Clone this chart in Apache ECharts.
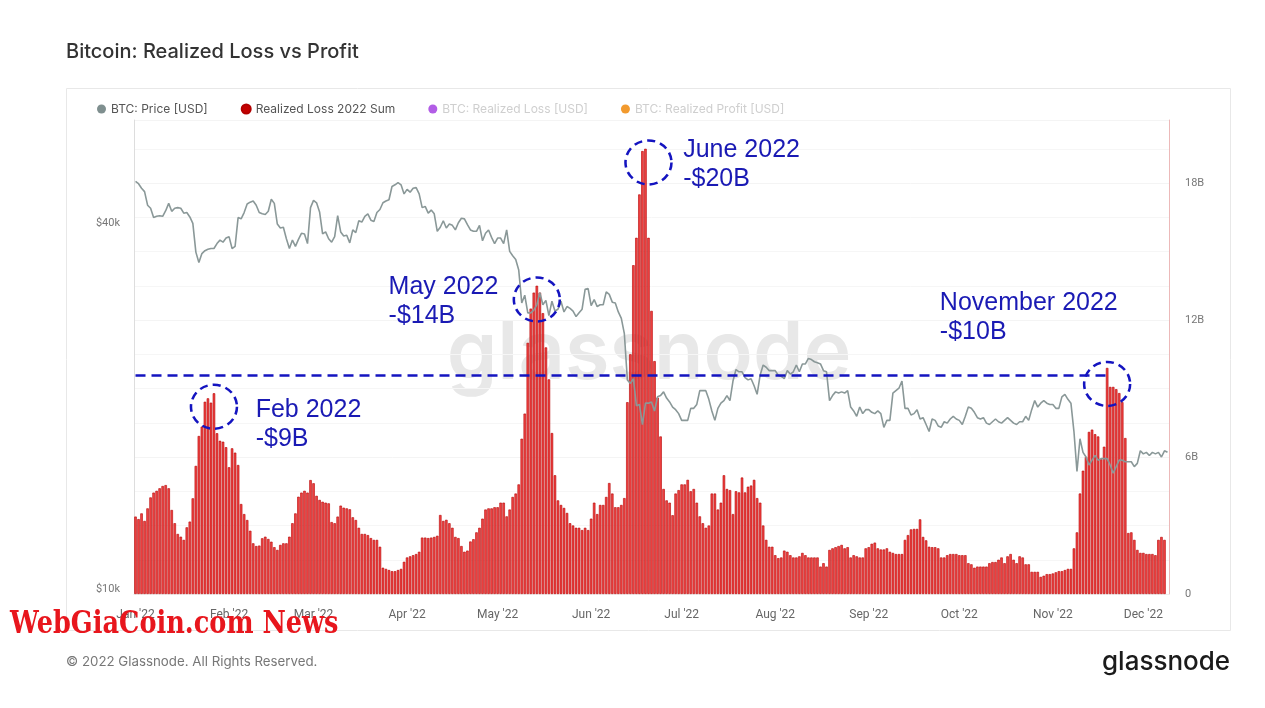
<!DOCTYPE html>
<html><head><meta charset="utf-8">
<script src="https://cdn.jsdelivr.net/npm/echarts@6/dist/echarts.min.js"></script>
<style>html,body{margin:0;padding:0;background:#fff;}#c{width:1265px;height:708px;}</style>
</head><body><div id="c"></div>
<script>
// ---------- DATA ----------
const firstDate = '2022-01-01';
const dayCount = 343; // Jan 1 .. Dec 9, 2022
const monthNames = ['Jan','Feb','Mar','Apr','May','Jun','Jul','Aug','Sep','Oct','Nov','Dec'];

// BTC price (USD thousands), daily
const priceK = [
 47.7,47.3,46.5,45.9,43.6,43.1,41.6,41.8,41.9,41.8,42.7,43.9,42.6,43.1,43.2,43.1,42.3,42.4,41.7,40.7,36.5,35.1,36.3,36.7,36.9,37.0,37.0,37.7,38.2,37.9,38.5,
 38.7,37.0,37.3,41.6,41.4,42.4,43.8,44.1,44.3,43.6,42.4,42.2,42.1,42.6,44.6,43.9,40.6,40.0,40.1,38.4,37.0,38.2,37.3,38.3,39.2,39.1,37.7,43.2,
 44.4,44.0,42.5,39.1,39.4,38.4,37.9,38.7,41.9,39.4,38.8,38.9,37.8,39.7,39.3,41.1,40.9,41.8,42.2,41.2,41.0,42.4,42.9,44.0,44.3,44.5,46.8,47.1,47.5,47.1,45.5,
 46.3,45.8,46.5,46.6,45.5,43.2,43.4,42.3,42.8,42.2,39.5,40.1,41.1,40.0,40.6,40.4,39.7,40.8,41.5,41.4,40.5,39.7,39.5,39.5,40.4,38.1,39.2,39.7,38.6,37.7,
 38.5,38.5,37.7,39.7,36.6,36.0,35.5,34.1,30.1,31.0,29.0,29.0,29.3,29.9,31.3,29.9,30.4,28.7,30.3,29.2,29.4,30.3,29.1,29.7,29.5,29.2,28.6,29.0,29.4,31.7,31.8,
 29.8,30.5,29.7,29.9,29.9,31.4,31.1,30.2,30.1,29.1,28.4,26.8,22.5,22.2,22.6,20.4,20.5,19.0,20.6,20.6,20.7,20.0,21.1,21.2,21.5,21.0,20.7,20.3,20.1,19.8,
 19.3,19.3,19.3,20.2,20.2,20.5,21.6,21.6,21.6,20.9,20.0,19.3,20.2,20.6,20.8,21.2,20.8,22.4,23.4,23.2,23.2,22.7,22.5,22.6,22.0,21.3,22.9,23.8,23.6,23.3,23.3,
 23.3,22.9,22.8,22.6,23.3,23.0,23.2,23.8,23.2,23.9,23.9,24.4,24.3,24.1,24.0,23.9,23.3,23.2,20.8,21.2,21.5,21.4,21.5,21.4,21.6,20.3,20.0,19.6,20.3,19.8,20.1,
 20.1,19.9,19.8,20.0,19.8,18.8,19.3,19.3,21.4,21.6,21.8,22.4,20.2,20.2,19.7,19.8,20.1,19.4,19.5,19.0,18.5,19.4,19.3,18.9,18.8,19.2,19.1,19.4,19.6,19.4,
 19.3,19.0,19.6,20.3,20.2,19.9,19.5,19.4,19.5,19.1,19.0,19.2,19.4,19.2,19.1,19.3,19.5,19.3,19.1,19.0,19.2,19.2,19.6,19.3,20.1,20.8,20.3,20.6,20.8,20.6,20.5,
 20.5,20.2,20.2,21.1,21.3,20.9,20.6,18.5,15.9,18.0,17.1,16.8,16.3,16.6,16.9,16.6,16.7,16.7,16.7,16.3,15.8,16.2,16.6,16.6,16.5,16.5,16.5,16.2,16.4,17.2,
 17.0,17.1,16.9,17.1,17.0,17.1,16.8,17.2,17.1
];

// Realized Loss 2022 Sum (USD billions), daily
const lossB = [
 3.39,3.28,3.53,3.2,3.75,4.23,4.44,4.52,4.63,4.73,4.77,4.63,3.68,3.1,2.63,2.51,2.37,2.92,3.17,4.19,5.61,6.92,7.33,8.42,8.57,8.38,8.79,7.04,
 6.71,6.67,6.43,5.55,6.38,6.19,5.65,3.94,3.5,3.24,2.77,2.22,2.1,2.12,2.44,2.51,2.41,2.29,2.05,1.93,2.15,2.22,2.22,2.51,3.1,3.53,4.26,4.44,4.52,4.44,
 4.99,4.85,4.3,4.12,4.04,4.0,3.97,3.15,3.1,3.39,3.87,3.78,3.75,3.71,3.36,3.24,2.9,2.63,2.63,2.58,2.45,2.37,2.37,2.07,1.15,1.1,
 1.05,1.0,1.0,1.05,1.1,1.41,1.6,1.65,1.7,1.75,1.85,2.47,2.47,2.45,2.47,2.5,2.55,3.46,3.2,3.25,3.1,2.9,2.5,2.45,2.1,1.85,1.9,2.3,2.4,2.7,2.9,3.3,3.7,3.75,3.75,3.8,3.8,4.0,4.0,3.4,3.7,4.25,4.4,4.8,6.8,7.9,11.0,12.5,13.2,13.5,13.2,12.3,10.8,9.4,7.05,5.2,
 4.1,3.9,3.77,3.55,3.1,3.0,2.9,2.9,2.8,2.9,2.8,3.3,4.0,3.5,3.9,3.9,4.25,4.86,4.4,3.8,3.8,3.9,4.2,8.4,10.5,14.4,15.6,17.5,19.4,19.5,15.6,12.4,10.2,8.6,6.9,4.6,4.1,4.0,3.45,4.4,4.55,4.8,4.8,5.0,4.5,4.6,4.0,
 3.4,3.1,2.9,3.0,4.4,4.4,3.7,4.0,5.2,4.6,4.55,3.5,4.5,4.45,5.1,4.45,4.7,4.75,5.0,4.2,4.0,3.0,2.37,2.07,2.07,1.7,1.57,1.6,1.9,1.85,1.7,1.6,1.6,1.65,1.8,1.7,1.6,1.6,1.6,1.6,1.2,1.35,1.2,
 1.93,2.0,2.05,2.1,2.15,2.0,2.05,1.6,1.7,1.65,1.6,1.6,2.0,2.05,2.2,2.25,2.0,1.95,1.95,2.0,1.85,1.8,1.75,1.75,1.75,2.37,2.58,2.83,2.85,2.85,3.27,2.5,2.35,2.07,2.05,2.05,2.0,1.6,1.6,1.7,1.75,1.75,1.75,1.7,1.7,1.7,
 1.35,1.3,1.15,1.2,1.2,1.2,1.2,1.35,1.4,1.4,1.5,1.6,1.35,1.65,1.75,1.5,1.35,1.65,1.6,1.3,1.3,0.97,0.97,0.97,0.75,0.8,0.87,0.87,0.9,0.95,
 1.0,1.0,1.05,1.1,1.1,2.0,2.7,4.4,5.4,6.0,7.1,7.2,7.0,6.9,5.9,6.45,9.9,9.07,9.07,8.97,8.8,8.4,6.83,2.67,2.7,2.37,1.93,1.8,1.8,1.75,1.75,1.75,1.7,2.37,2.5,2.37
];

// axis ticks
const priceTicksK = [10, 40];       // left log axis labels ($k)
const lossTicksB = [0, 6, 12, 18];  // right axis labels (B)

// annotations (day index, level in B, text)
const annoDays   = [26, 133, 170, 322];
const annoLevels = [8.2, 12.9, 18.9, 9.2];
const annoTexts  = ['Feb 2022\n-$9B', 'May 2022\n-$14B', 'June 2022\n-$20B', 'November 2022\n-$10B'];
const refLineLevel = 9.6;
const refLineEndDay = 322;

// ---------- BUILD ----------
const dates = [];
const t0 = Date.parse(firstDate + 'T00:00:00Z');
for (let i = 0; i < dayCount; i++) dates.push(new Date(t0 + i * 86400000).toISOString().slice(0, 10));

const LOG_MIN = Math.log10(priceTicksK[0] * 1000);
const LOG_STEP = Math.log10(priceTicksK[1] / priceTicksK[0]);
const LOG_MAX = LOG_MIN + 0.7796;
const priceLog = priceK.map(v => Math.log10(v * 1000));

const labelOffsets = [[66, 12], [-124, -4], [59, -4], [-143, -72]];

const chart = echarts.init(document.getElementById('c'), null, {renderer: 'canvas'});
const fontFam = 'Inter, Roboto, "Noto Sans", sans-serif';

chart.setOption({
  backgroundColor: '#ffffff',
  animation: false,
  textStyle: {fontFamily: fontFam},
  title: {
    text: 'Bitcoin: Realized Loss vs Profit',
    left: 66, top: 42, padding: 0,
    textStyle: {fontSize: 20, fontWeight: 500, color: '#333', fontFamily: fontFam}
  },
  legend: {
    left: 92, top: 98, icon: 'circle', itemWidth: 9, itemHeight: 9, itemGap: 33,
    textStyle: {fontSize: 12, color: '#555', fontFamily: fontFam},
    selectedMode: false,
    data: [
      {name: 'BTC: Price [USD]', itemStyle: {color: '#7f8f8f'}},
      {name: 'Realized Loss 2022 Sum', itemStyle: {color: '#c40000'}},
      {name: 'BTC: Realized Loss [USD]', itemStyle: {color: '#b25de6'}, textStyle: {color: '#cfcfcf'}},
      {name: 'BTC: Realized Profit [USD]', itemStyle: {color: '#f29a2e'}, textStyle: {color: '#cfcfcf'}}
    ]
  },
  grid: {left: 134, right: 96, top: 120, bottom: 114, containLabel: false},
  xAxis: {
    type: 'category', data: dates, boundaryGap: true,
    axisLine: {show: true, lineStyle: {color: '#eeeeee'}},
    axisTick: {show: false},
    axisLabel: {
      color: '#666', fontSize: 12, margin: 15, fontFamily: 'Roboto, sans-serif',
      interval: (idx, val) => val.slice(8) === '01',
      formatter: val => monthNames[+val.slice(5, 7) - 1] + " '" + val.slice(2, 4)
    },
    splitLine: {show: false}
  },
  yAxis: [
    {
      type: 'value', position: 'left', min: LOG_MIN, max: LOG_MAX, interval: LOG_STEP,
      axisLine: {show: true, lineStyle: {color: '#dddddd'}},
      axisTick: {show: false}, splitLine: {show: false},
      axisLabel: {
        color: '#777', fontSize: 11, margin: 14, showMaxLabel: false,
        verticalAlign: 'bottom', lineHeight: 9, fontFamily: 'Roboto, sans-serif',
        formatter: v => {
          for (const k of priceTicksK) if (Math.abs(v - Math.log10(k * 1000)) < 1e-6) return '$' + k + 'k';
          return '';
        }
      }
    },
    {
      type: 'value', position: 'right', min: 0, max: 20.76, interval: 6,
      axisLine: {show: true, lineStyle: {color: '#ecb9b9'}},
      axisTick: {show: false},
      splitLine: {show: true, lineStyle: {color: '#f4f4f4'}},
      minorTick: {show: false, splitNumber: 4},
      minorSplitLine: {show: true, lineStyle: {color: '#f6f6f6'}},
      axisLabel: {
        color: '#777', fontSize: 11, margin: 16, showMaxLabel: false, fontFamily: 'Roboto, sans-serif',
        formatter: v => lossTicksB.includes(v) ? (v === 0 ? '0' : v + 'B') : ''
      }
    }
  ],
  graphic: [
    {type: 'rect', z: -20, shape: {x: 66.5, y: 88.5, width: 1164, height: 542}, style: {fill: 'none', stroke: '#e8e8e8', lineWidth: 1}},
    {type: 'text', z: -10, x: 649, y: 355, style: {text: 'glassnode', font: '600 81px Inter, Roboto, sans-serif', fill: '#e8e8e8', align: 'center', verticalAlign: 'middle'}},
    {type: 'text', x: 66, y: 655, style: {text: '© 2022 Glassnode. All Rights Reserved.', font: '13.3px Inter, Roboto, sans-serif', fill: '#777'}},
    {type: 'text', x: 1102, y: 649, style: {text: 'glassnode', font: '500 26px Inter, Roboto, sans-serif', fill: '#1b1b1b'}},
    {type: 'text', z: 100, x: 10, y: 609, scaleX: 0.8, style: {text: 'WebGiaCoin.com News', font: 'bold 32px "DejaVu Serif", serif', fill: '#e8161d'}}
  ],
  series: [
    {
      name: 'Realized Loss 2022 Sum', type: 'bar', yAxisIndex: 1, data: lossB,
      barCategoryGap: '18%', z: 1,
      itemStyle: {color: '#f24343', borderColor: '#b30000', borderWidth: 0.6},
      markLine: {
        silent: true, symbol: ['none', 'none'], label: {show: false},
        lineStyle: {color: '#1414c0', width: 2.5, type: [10, 6]},
        data: [[{coord: [0, refLineLevel]}, {coord: [refLineEndDay, refLineLevel]}]]
      },
      markPoint: {
        silent: true, symbol: 'circle', symbolSize: [46, 44],
        itemStyle: {color: 'rgba(0,0,0,0)', borderColor: '#1414c0', borderWidth: 2.5, borderType: [8, 5]},
        label: {
          show: true, formatter: '{b}', align: 'left', verticalAlign: 'top',
          color: '#1a1ab4', fontSize: 25, lineHeight: 29, fontFamily: '"Liberation Sans", Arial, sans-serif'
        },
        data: annoDays.map((d, k) => ({
          name: annoTexts[k], coord: [d, annoLevels[k]],
          label: {position: labelOffsets[k]}
        }))
      }
    },
    {
      name: 'BTC: Price [USD]', type: 'line', yAxisIndex: 0, data: priceLog,
      showSymbol: false, symbol: 'none', z: 3,
      lineStyle: {color: '#8a9898', width: 1.6}, itemStyle: {color: '#7f8f8f'}
    },
    {name: 'BTC: Realized Loss [USD]', type: 'line', data: [], itemStyle: {color: '#b25de6'}},
    {name: 'BTC: Realized Profit [USD]', type: 'line', data: [], itemStyle: {color: '#f29a2e'}}
  ]
});
</script>
</body></html>
